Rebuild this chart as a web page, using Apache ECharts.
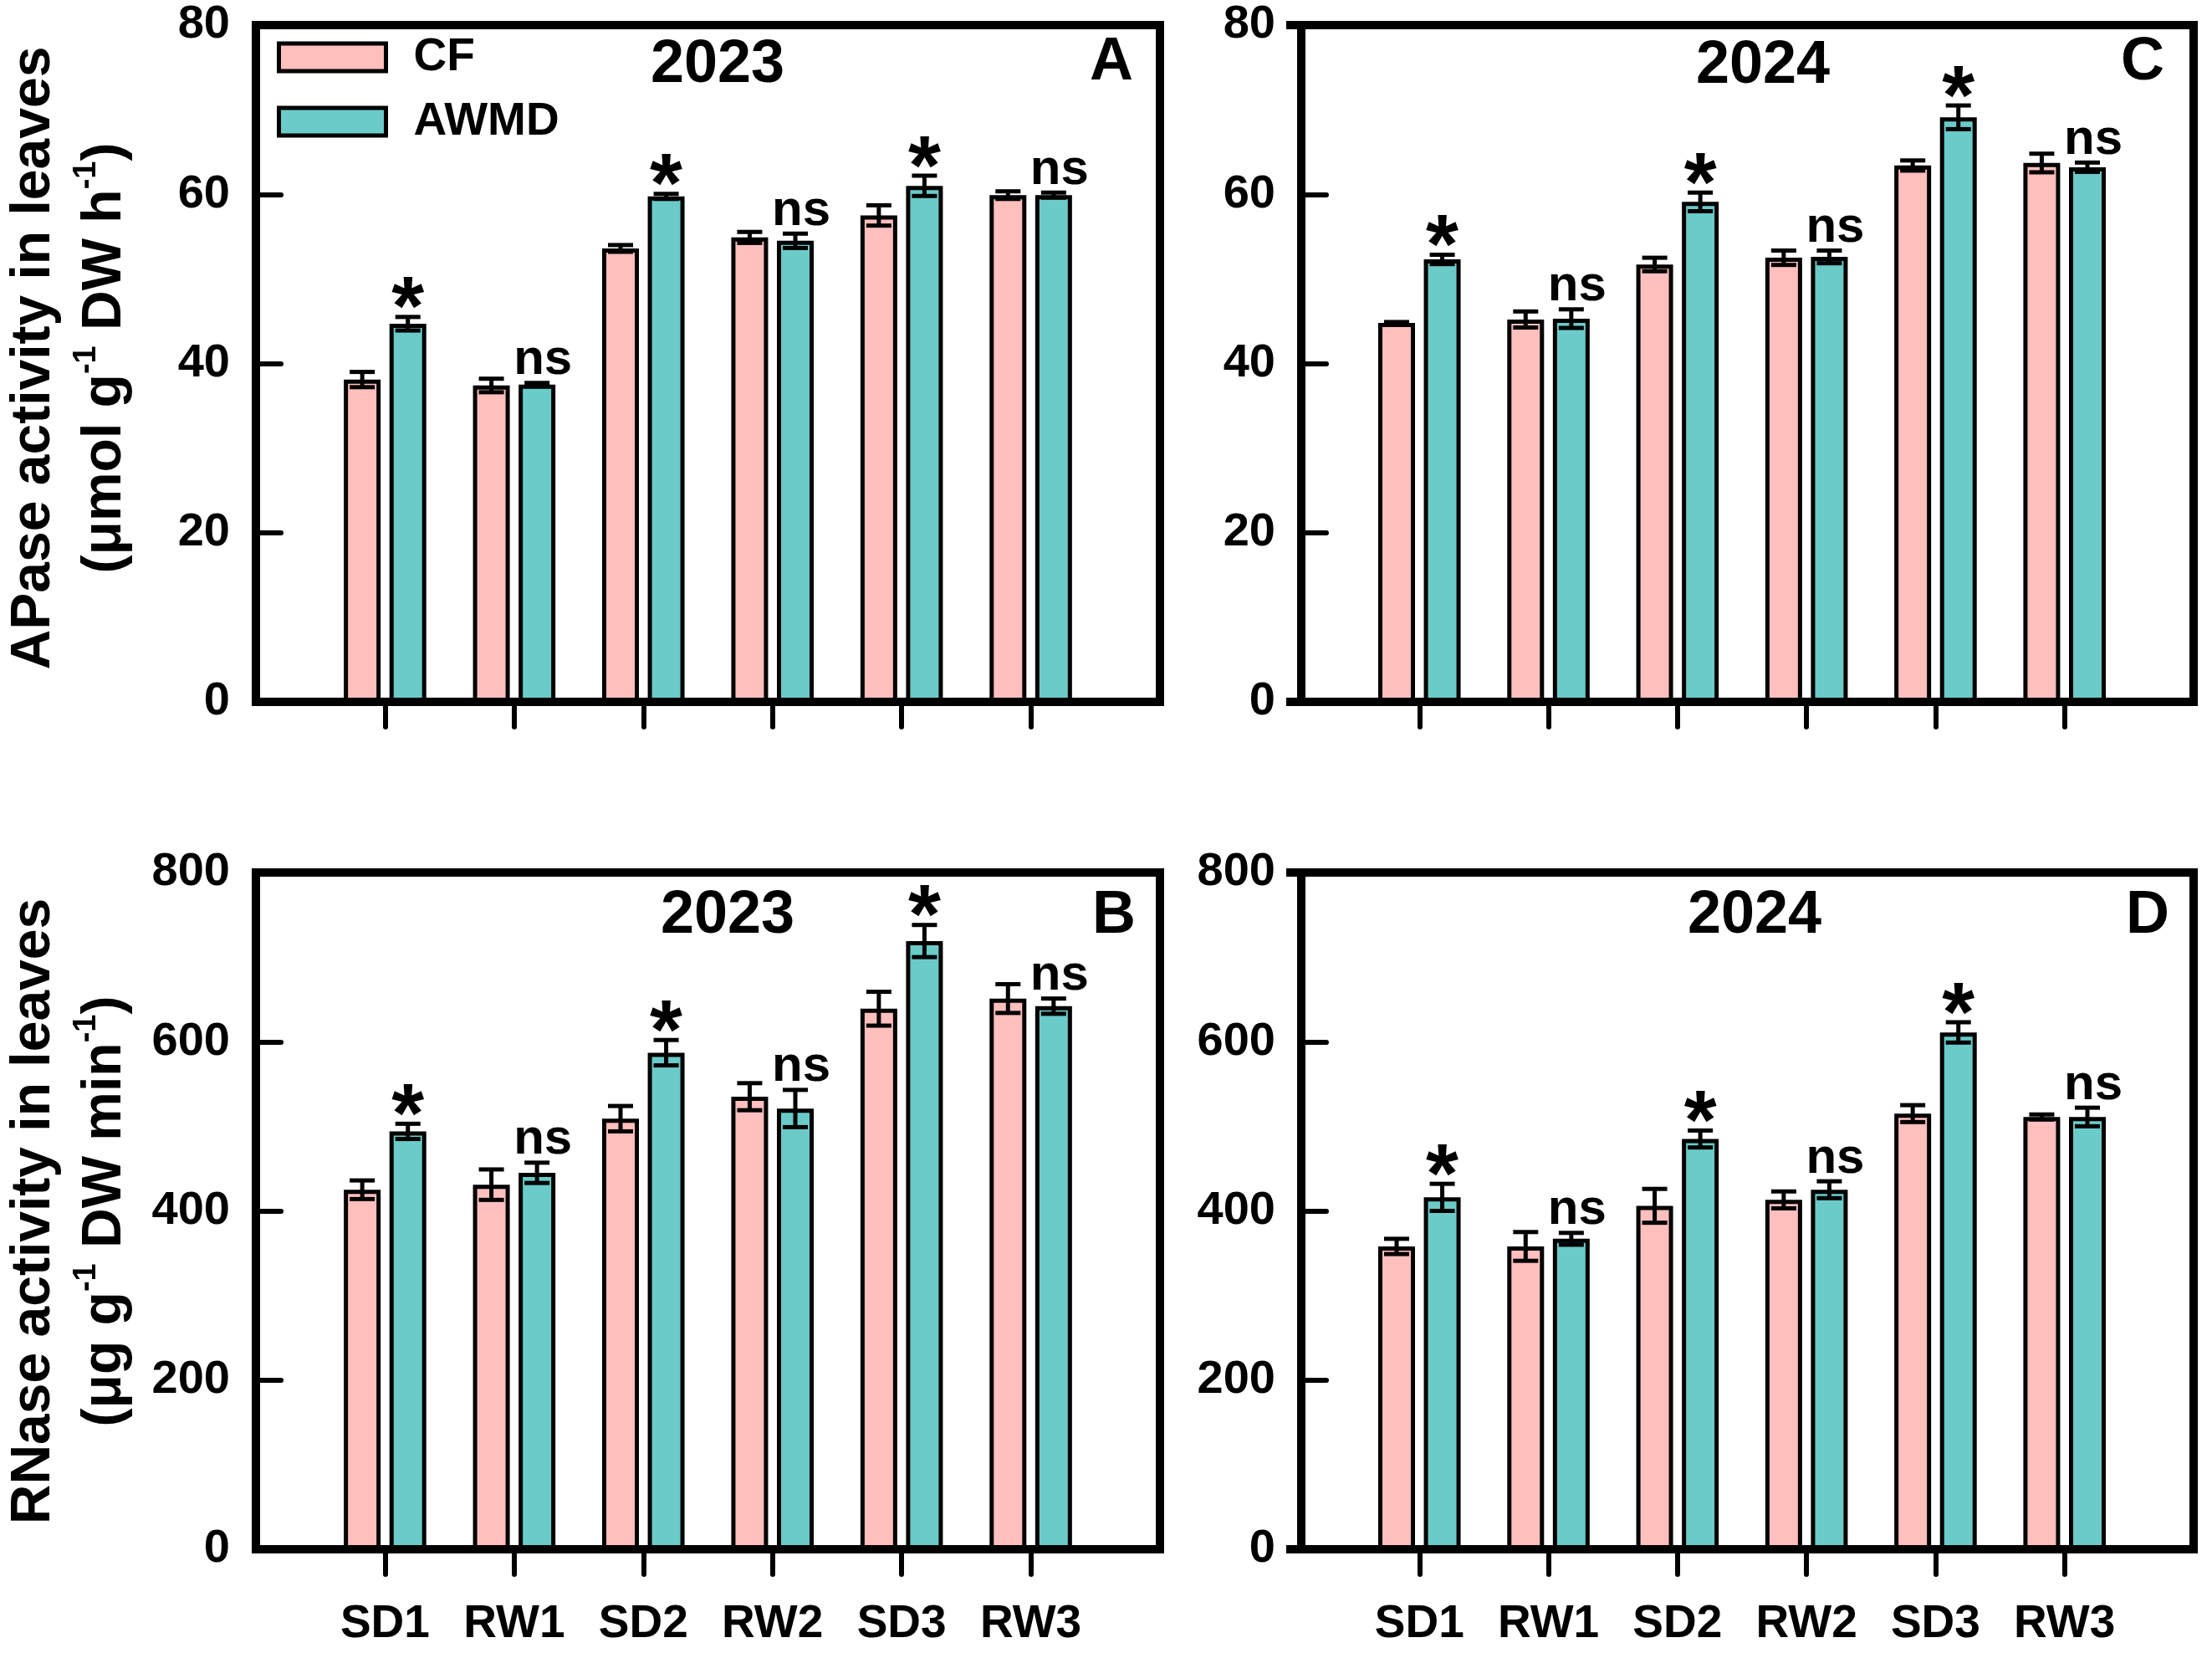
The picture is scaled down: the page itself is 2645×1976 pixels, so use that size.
<!DOCTYPE html>
<html>
<head>
<meta charset="utf-8">
<script src="https://cdn.jsdelivr.net/npm/echarts@6.0.0/dist/echarts.min.js"></script>
<style>
  html, body { margin: 0; padding: 0; background: #fff; }
  #chart { width: 2645px; height: 1976px; }
</style>
</head>
<body>
<div id="chart"></div>
<script>
// categories along x; blank slots at both ends so groups sit on inner ticks
const categories = ['SD1', 'RW1', 'SD2', 'RW2', 'SD3', 'RW3'];
const axisCats = [''].concat(categories, ['']);

// APase 2023 (panel A)
const apase2023Cf = [38.1, 37.4, 53.6, 54.9, 57.5, 59.9];
const apase2023CfErr = [0.9, 0.8, 0.4, 0.65, 1.2, 0.45];
const apase2023Awmd = [44.7, 37.5, 59.75, 54.5, 61.0, 59.9];
const apase2023AwmdErr = [0.8, 0.2, 0.3, 0.85, 1.2, 0.3];

// APase 2024 (panel C)
const apase2024Cf = [44.8, 45.2, 51.7, 52.5, 63.4, 63.7];
const apase2024CfErr = [0.1, 0.95, 0.8, 0.85, 0.6, 1.1];
const apase2024Awmd = [52.3, 45.3, 59.1, 52.6, 69.1, 63.2];
const apase2024AwmdErr = [0.55, 1.1, 1.1, 0.75, 1.4, 0.55];

// RNase 2023 (panel B)
const rnase2023Cf = [425, 431, 509, 535, 639, 651];
const rnase2023CfErr = [11, 18, 15, 16, 20, 17];
const rnase2023Awmd = [494, 445, 587, 521, 719, 642];
const rnase2023AwmdErr = [9, 12, 15, 22, 19, 9];

// RNase 2024 (panel D)
const rnase2024Cf = [358, 358, 406, 413, 515, 511];
const rnase2024CfErr = [9, 17, 20, 10, 10, 3];
const rnase2024Awmd = [416, 367, 485, 425, 611, 511];
const rnase2024AwmdErr = [16, 7, 10, 10, 12, 11];

// significance marks above the AWMD bars
const sigA = ['*', 'ns', '*', 'ns', '*', 'ns'];
const sigB = ['*', 'ns', '*', 'ns', '*', 'ns'];
const sigC = ['*', 'ns', '*', 'ns', '*', 'ns'];
const sigD = ['*', 'ns', '*', 'ns', '*', 'ns'];

const FONT = '"Liberation Sans", Arial, sans-serif';
const CF_COLOR = '#FFBFBD';
const AWMD_COLOR = '#6ACBC8';
const BAR_W = 44;
const BAR_GAP = 0.24;
const HALF = BAR_W * (1 + BAR_GAP) / 2;

// right-hand panels: x axis starts a little left of the y axis line
const panels = [
  { grid: { left: 306, top: 30, width: 1081, height: 809 }, yOffset: 0, max: 80, interval: 20,
    cf: apase2023Cf, cfErr: apase2023CfErr, aw: apase2023Awmd, awErr: apase2023AwmdErr, sig: sigA, showX: false },
  { grid: { left: 1543, top: 30, width: 1080, height: 809 }, yOffset: -13, max: 80, interval: 20,
    cf: apase2024Cf, cfErr: apase2024CfErr, aw: apase2024Awmd, awErr: apase2024AwmdErr, sig: sigC, showX: false },
  { grid: { left: 306, top: 1043, width: 1081, height: 809 }, yOffset: 0, max: 800, interval: 200,
    cf: rnase2023Cf, cfErr: rnase2023CfErr, aw: rnase2023Awmd, awErr: rnase2023AwmdErr, sig: sigB, showX: true },
  { grid: { left: 1543, top: 1043, width: 1080, height: 809 }, yOffset: -13, max: 800, interval: 200,
    cf: rnase2024Cf, cfErr: rnase2024CfErr, aw: rnase2024Awmd, awErr: rnase2024AwmdErr, sig: sigD, showX: true }
];

function errRender(p) {
  return function (params, api) {
    const x = api.value(0);
    const children = [];
    [[1, 2, -HALF], [3, 4, HALF]].forEach(function (d) {
      const m = api.value(d[0]), e = api.value(d[1]);
      const t = api.coord([x, m + e]), b = api.coord([x, m - e]);
      const cx = t[0] + d[2];
      const ls = { stroke: '#000', lineWidth: 5 };
      children.push({ type: 'line', shape: { x1: cx, y1: t[1], x2: cx, y2: b[1] }, style: ls });
      children.push({ type: 'line', shape: { x1: cx - 15, y1: t[1], x2: cx + 15, y2: t[1] }, style: ls });
      children.push({ type: 'line', shape: { x1: cx - 15, y1: b[1], x2: cx + 15, y2: b[1] }, style: ls });
    });
    const mark = p.sig[params.dataIndex];
    const topY = api.coord([x, api.value(3) + api.value(4)])[1];
    const star = mark === '*';
    const pos = api.coord([x, 0])[0] + HALF + (star ? 0 : 7);
    children.push({
      type: 'text',
      style: {
        text: mark, x: pos, y: star ? topY - 6 : topY - 27,
        fontSize: star ? 100 : 60, fontWeight: 'bold', fontFamily: FONT, fill: '#000',
        align: 'center', verticalAlign: 'middle', textAlign: 'center', textVerticalAlign: 'middle'
      }
    });
    return { type: 'group', children: children };
  };
}

const frameLine = function () { return { color: '#000', width: 10, cap: 'square' }; };
const grid = [], xAxis = [], yAxis = [], series = [];
panels.forEach(function (p, i) {
  grid.push(Object.assign({ show: false }, p.grid));
  xAxis.push({
    type: 'category', gridIndex: i, data: axisCats, boundaryGap: false, z: 10,
    axisLine: { onZero: false, lineStyle: frameLine() },
    axisTick: { interval: function (idx) { return idx > 0 && idx < axisCats.length - 1; },
      length: 30, lineStyle: { color: '#000', width: 6, cap: 'round' } },
    axisLabel: { show: p.showX, interval: 0, margin: 62, fontSize: 55, fontWeight: 'bold',
      fontFamily: FONT, color: '#000' },
    splitLine: { show: false }
  });
  xAxis.push({
    type: 'category', gridIndex: i, position: 'top', data: axisCats, boundaryGap: false, z: 10,
    axisLine: { show: true, onZero: false, lineStyle: frameLine() },
    axisTick: { show: false }, axisLabel: { show: false }, splitLine: { show: false }
  });
  yAxis.push({
    type: 'value', gridIndex: i, min: 0, max: p.max, interval: p.interval, z: 10, offset: p.yOffset,
    axisLine: { show: true, onZero: false, lineStyle: frameLine() },
    axisTick: { show: true, inside: true, length: 30, lineStyle: { color: '#000', width: 6, cap: 'round' } },
    axisLabel: { margin: 31, fontSize: 56, fontWeight: 'bold', fontFamily: FONT, color: '#000' },
    splitLine: { show: false }
  });
  yAxis.push({
    type: 'value', gridIndex: i, position: 'right', min: 0, max: p.max, interval: p.interval, z: 10,
    axisLine: { show: true, onZero: false, lineStyle: frameLine() },
    axisTick: { show: false }, axisLabel: { show: false }, splitLine: { show: false }
  });
  const xi = 2 * i, yi = 2 * i;
  const barStyle = function (c) { return { color: c, borderColor: '#000', borderWidth: 5 }; };
  series.push({
    type: 'bar', name: 'CF', xAxisIndex: xi, yAxisIndex: yi, barWidth: BAR_W, barGap: (BAR_GAP * 100) + '%',
    data: p.cf.map(function (v, k) { return [k + 1, v]; }), itemStyle: barStyle(CF_COLOR), silent: true
  });
  series.push({
    type: 'bar', name: 'AWMD', xAxisIndex: xi, yAxisIndex: yi, barWidth: BAR_W, barGap: (BAR_GAP * 100) + '%',
    data: p.aw.map(function (v, k) { return [k + 1, v]; }), itemStyle: barStyle(AWMD_COLOR), silent: true
  });
  series.push({
    type: 'custom', xAxisIndex: xi, yAxisIndex: yi, z: 5, silent: true,
    data: p.cf.map(function (v, k) { return [k + 1, v, p.cfErr[k], p.aw[k], p.awErr[k]]; }),
    encode: { x: 0, y: [1, 3] },
    renderItem: errRender(p)
  });
});

function bigText(text, x, y) {
  return { type: 'text', x: x, y: y, z: 20, style: { text: text, fontSize: 72, fontWeight: 'bold',
    fontFamily: FONT, fill: '#000', align: 'center', verticalAlign: 'middle',
    textAlign: 'center', textVerticalAlign: 'middle' } };
}
const richStyles = {
  a: { fontSize: 66, fontWeight: 'bold', fontFamily: FONT, lineHeight: 85, align: 'center', fill: '#000', color: '#000' },
  s: { fontSize: 38, fontWeight: 'bold', fontFamily: FONT, lineHeight: 85, align: 'center', fill: '#000', color: '#000',
    padding: [0, 0, 44, 0] }
};
function yTitle(text, x, y) {
  return { type: 'text', x: x, y: y, rotation: Math.PI / 2, z: 20,
    style: { text: text, rich: richStyles, align: 'center', verticalAlign: 'middle',
      textAlign: 'center', textVerticalAlign: 'middle', fill: '#000' } };
}

const option = {
  backgroundColor: '#fff',
  animation: false,
  legend: {
    data: ['CF', 'AWMD'], orient: 'vertical', left: 326, top: 36, selectedMode: false,
    itemWidth: 128, itemHeight: 33, itemGap: 22, icon: 'rect',
    itemStyle: { borderColor: '#000', borderWidth: 5 },
    formatter: '{t|{name}}',
    textStyle: {
      rich: { t: { fontSize: 55, fontWeight: 'bold', fontFamily: FONT, color: '#000', lineHeight: 50,
        padding: [0, 0, 0, 28] } }
    }
  },
  grid: grid,
  xAxis: xAxis,
  yAxis: yAxis,
  series: series,
  graphic: [
    bigText('2023', 858, 78), bigText('A', 1329, 75),
    bigText('2024', 2108, 79), bigText('C', 2562, 75),
    bigText('2023', 870, 1095), bigText('B', 1332, 1095),
    bigText('2024', 2098, 1095), bigText('D', 2568, 1095),
    yTitle('{a|APase activity in leaves}\n{a|(μmol g}{s|-1}{a| DW h}{s|-1}{a|)}', 83, 428),
    yTitle('{a|RNase activity in leaves}\n{a|(μg g}{s|-1}{a| DW min}{s|-1}{a|)}', 83, 1448)
  ]
};

const chart = echarts.init(document.getElementById('chart'));
chart.setOption(option);
</script>
</body>
</html>
